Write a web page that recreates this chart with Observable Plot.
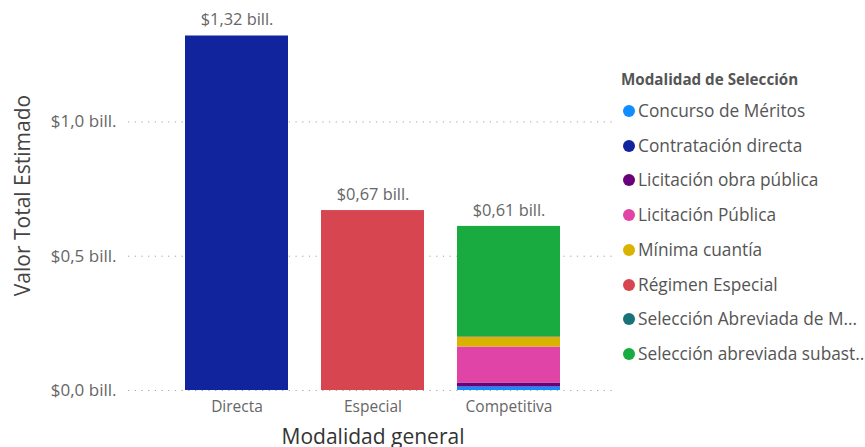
<!DOCTYPE html>
<html>
<head>
<meta charset="utf-8">
<script src="https://cdn.jsdelivr.net/npm/d3@7"></script>
<script src="https://cdn.jsdelivr.net/npm/@observablehq/plot@0.6"></script>
<style>
  html, body { margin: 0; padding: 0; background: #fff; }
  #wrap { position: relative; width: 865px; height: 447px; overflow: hidden; font-family: "Open Sans", sans-serif; }
  #legend { position: absolute; left: 621px; top: 0; width: 244px; }
  #legend .title { position: absolute; left: 0; top: 68px; font-size: 15.2px; font-weight: bold; color: #555; white-space: nowrap; line-height: 22px; }
  #legend .item { position: absolute; left: 2px; height: 24px; line-height: 24px; white-space: nowrap; font-size: 17.3px; color: #555; }
  #legend .dot { display: inline-block; width: 12px; height: 12px; border-radius: 50%; vertical-align: 0px; margin-right: 3px; }
</style>
</head>
<body>
<div id="wrap"></div>
<script>
const modalidadGeneral = ["Directa", "Especial", "Competitiva"];
const modalidadSeleccion = [
  "Concurso de Méritos",
  "Contratación directa",
  "Licitación obra pública",
  "Licitación Pública",
  "Mínima cuantía",
  "Régimen Especial",
  "Selección Abreviada de Menor Cuantía",
  "Selección abreviada subasta inversa"
];
const etiquetasLeyenda = [
  "Concurso de Méritos",
  "Contratación directa",
  "Licitación obra pública",
  "Licitación Pública",
  "Mínima cuantía",
  "Régimen Especial",
  "Selección Abreviada de M...",
  "Selección abreviada subast.."
];
const colores = ["#118DFF", "#12239E", "#6B007B", "#E044A7", "#D9B300", "#D64550", "#197278", "#1AAB40"];
// values in billions, per modalidad de selección (same order as above)
const directa     = [0, 1.32, 0, 0, 0, 0, 0, 0];
const especial    = [0, 0, 0, 0, 0, 0.67, 0, 0];
const competitiva = [0.013, 0, 0.015, 0.134, 0.037, 0, 0.002, 0.41];
const yTicks = [0, 0.5, 1.0];

const series = [directa, especial, competitiva];
const rows = [];
modalidadGeneral.forEach((g, gi) => {
  modalidadSeleccion.forEach((s, si) => {
    const v = series[gi][si];
    if (v > 0) rows.push({general: g, seleccion: s, valor: v});
  });
});
const totals = modalidadGeneral.map((g, gi) => ({general: g, total: d3.sum(series[gi])}));
const fmt = (v, n) => "$" + v.toFixed(n).replace(".", ",") + " bill.";

const chart = Plot.plot({
  width: 865,
  height: 447,
  marginLeft: 128,
  marginRight: 248,
  marginTop: 14,
  marginBottom: 57,
  style: {fontFamily: "'Open Sans', sans-serif", background: "transparent", overflow: "visible"},
  x: {domain: modalidadGeneral, paddingInner: 0.24, paddingOuter: 0.405, label: null},
  y: {domain: [0, 1.4], label: null},
  color: {domain: modalidadSeleccion, range: colores},
  marks: [
    Plot.gridY(yTicks, {stroke: "#999", strokeOpacity: 0.9, strokeDasharray: "1.2,5.5", strokeWidth: 1}),
    Plot.barY(rows, {x: "general", y: "valor", fill: "seleccion", order: null}),
    Plot.axisY(yTicks, {tickSize: 0, tickPadding: 12, tickFormat: d => fmt(d, 1), fontSize: 17, fill: "#666", label: null}),
    Plot.axisX({tickSize: 0, tickPadding: 10, fontSize: 15.5, fill: "#666", label: null}),
    Plot.text(totals, {x: "general", y: "total", text: d => fmt(d.total, 2), dy: -16, lineAnchor: "middle", fontSize: 16.4, fill: "#666"}),
    Plot.text(["Valor Total Estimado"], {frameAnchor: "left", textAnchor: "middle", rotate: -90, dx: -105, dy: -7, lineAnchor: "middle", fontSize: 21, fill: "#444"}),
    Plot.text(["Modalidad general"], {frameAnchor: "bottom", textAnchor: "middle", dy: 47, lineAnchor: "middle", fontSize: 21, fill: "#333"})
  ]
});

const wrap = document.getElementById("wrap");
wrap.appendChild(chart);

const legend = document.createElement("div");
legend.id = "legend";
const title = document.createElement("div");
title.className = "title";
title.textContent = "Modalidad de Selección";
legend.appendChild(title);
etiquetasLeyenda.forEach((lab, i) => {
  const it = document.createElement("div");
  it.className = "item";
  it.style.top = (111 + i * 34.7 - 12) + "px";
  const dot = document.createElement("span");
  dot.className = "dot";
  dot.style.background = colores[i];
  it.appendChild(dot);
  it.appendChild(document.createTextNode(lab));
  legend.appendChild(it);
});
wrap.appendChild(legend);
</script>
</body>
</html>
